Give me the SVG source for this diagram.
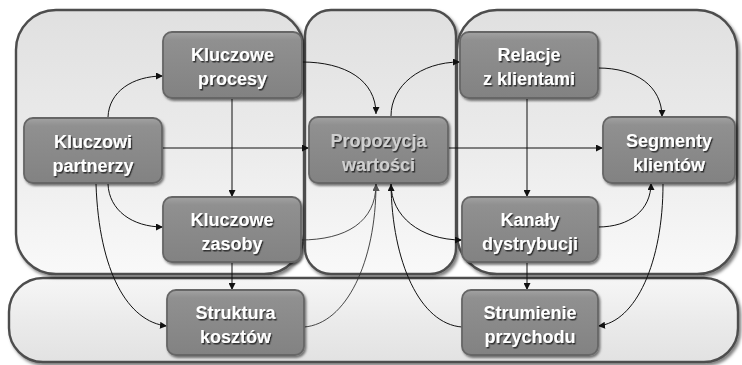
<svg xmlns="http://www.w3.org/2000/svg" width="742" height="365" viewBox="0 0 742 365">
<defs>
<linearGradient id="gPanel" x1="0" y1="0" x2="0" y2="1">
<stop offset="0" stop-color="#e0e0e0"/>
<stop offset="0.55" stop-color="#ececec"/>
<stop offset="1" stop-color="#f9f9f9"/>
</linearGradient>
<linearGradient id="gBottom" x1="0" y1="0" x2="0" y2="1">
<stop offset="0" stop-color="#f6f6f6"/>
<stop offset="0.5" stop-color="#ebebeb"/>
<stop offset="1" stop-color="#e2e2e2"/>
</linearGradient>
<linearGradient id="gNode" x1="0" y1="0" x2="0" y2="1">
<stop offset="0" stop-color="#a2a2a2"/>
<stop offset="0.12" stop-color="#909090"/>
<stop offset="1" stop-color="#828282"/>
</linearGradient>
<filter id="fPanel" x="-5%" y="-5%" width="112%" height="115%">
<feDropShadow dx="2" dy="2.5" stdDeviation="1.8" flood-color="#000" flood-opacity="0.5"/>
</filter>
<filter id="fNode" x="-5%" y="-5%" width="115%" height="125%">
<feDropShadow dx="1.5" dy="2" stdDeviation="1.3" flood-color="#000" flood-opacity="0.5"/>
</filter>
<filter id="fText" x="-10%" y="-20%" width="125%" height="150%">
<feDropShadow dx="1.2" dy="1.5" stdDeviation="0.7" flood-color="#222" flood-opacity="0.85"/>
</filter>
<marker id="arr" viewBox="0 0 10 10" refX="10" refY="5" markerWidth="7.5" markerHeight="7" markerUnits="userSpaceOnUse" orient="auto">
<path d="M0,0 L10,5 L0,10 z" fill="#111"/>
</marker>
<marker id="arrG" viewBox="0 0 10 10" refX="10" refY="5" markerWidth="7.5" markerHeight="7" markerUnits="userSpaceOnUse" orient="auto">
<path d="M0,0 L10,5 L0,10 z" fill="#555"/>
</marker>
</defs>
<style>
.panel{fill:url(#gPanel);stroke:#4d4d4d;stroke-width:2.4;filter:url(#fPanel)}
.panelB{fill:url(#gBottom);stroke:#4d4d4d;stroke-width:2.4;filter:url(#fPanel)}
.box{fill:url(#gNode);stroke:#666666;stroke-width:1.8;filter:url(#fNode)}
.lbl{font-family:"Liberation Sans",Arial,sans-serif;font-weight:bold;font-size:18px;fill:#ffffff;text-anchor:middle;filter:url(#fText)}
.lblP{fill:#cfcfcf}
.c{fill:none;stroke:#111;stroke-width:1;marker-end:url(#arr)}
.cg{fill:none;stroke:#333;stroke-width:0.9;marker-end:url(#arrG)}
</style>
<rect width="742" height="365" fill="#ffffff"/>
<g id="panels">
<rect class="panelB" x="9" y="278" width="729" height="84" rx="34"/>
<rect class="panel" x="16" y="10" width="288" height="264" rx="40"/>
<rect class="panel" x="305" y="10" width="151" height="264" rx="26"/>
<rect class="panel" x="457" y="10" width="280" height="264" rx="40"/>
</g>
<g id="connectors">
<path class="c" d="M108,117 C109,92 132,76 163,76"/>
<path class="c" d="M108,184 C109,210 132,227 163,227"/>
<path class="c" d="M96,184 C99,272 128,322 167,326"/>
<path class="c" d="M162,148 H309"/>
<path class="c" d="M232,98 V197"/>
<path class="c" d="M232,262 V290"/>
<path class="c" d="M302,62 C345,62 376,80 376,114"/>
<path class="c" d="M391,116 C391,86 420,62 460,62"/>
<path class="c" d="M448,148 H603"/>
<path class="c" d="M598,68 C636,68 662,86 662,117"/>
<path class="c" d="M527,98 V197"/>
<path class="c" d="M527,262 V290"/>
<path class="c" d="M598,227 C630,227 651,210 651,183"/>
<path class="c" d="M663,184 C663,262 636,322 598,326"/>
<path class="cg" d="M300,240 C346,240 376,222 376,184"/>
<path class="cg" d="M304,327 C346,324 376,262 376,184"/>
<path class="c" d="M391,184 C391,216 420,240 462,240"/>
<path class="c" d="M462,327 C420,324 392,262 391,184"/>
</g>
<g id="kluczowe-procesy">
<rect class="box" x="163" y="32" width="139" height="66" rx="9"/>
<text class="lbl" x="232.5" y="61">Kluczowe</text>
<text class="lbl" x="232.5" y="85">procesy</text>
</g>
<g id="kluczowi-partnerzy">
<rect class="box" x="24" y="118" width="138" height="65" rx="9"/>
<text class="lbl" x="93" y="148">Kluczowi</text>
<text class="lbl" x="93" y="172">partnerzy</text>
</g>
<g id="kluczowe-zasoby">
<rect class="box" x="163" y="197" width="138" height="65" rx="9"/>
<text class="lbl" x="232" y="226">Kluczowe</text>
<text class="lbl" x="232" y="250">zasoby</text>
</g>
<g id="struktura-kosztow">
<rect class="box" x="167" y="290" width="137" height="65" rx="9"/>
<text class="lbl" x="235.5" y="319">Struktura</text>
<text class="lbl" x="235.5" y="343">kosztów</text>
</g>
<g id="propozycja-wartosci">
<rect class="box" x="309" y="117" width="139" height="66" rx="9"/>
<text class="lbl lblP" x="378.5" y="147">Propozycja</text>
<text class="lbl lblP" x="378.5" y="171">wartości</text>
</g>
<g id="relacje-z-klientami">
<rect class="box" x="460" y="32" width="138" height="66" rx="9"/>
<text class="lbl" x="529" y="61">Relacje</text>
<text class="lbl" x="529" y="85">z klientami</text>
</g>
<g id="segmenty-klientow">
<rect class="box" x="603" y="117" width="132" height="66" rx="9"/>
<text class="lbl" x="669" y="147">Segmenty</text>
<text class="lbl" x="669" y="171">klientów</text>
</g>
<g id="kanaly-dystrybucji">
<rect class="box" x="462" y="197" width="136" height="65" rx="9"/>
<text class="lbl" x="530" y="226">Kanały</text>
<text class="lbl" x="530" y="250">dystrybucji</text>
</g>
<g id="strumienie-przychodu">
<rect class="box" x="462" y="290" width="136" height="65" rx="9"/>
<text class="lbl" x="530" y="319">Strumienie</text>
<text class="lbl" x="530" y="343">przychodu</text>
</g>
</svg>
